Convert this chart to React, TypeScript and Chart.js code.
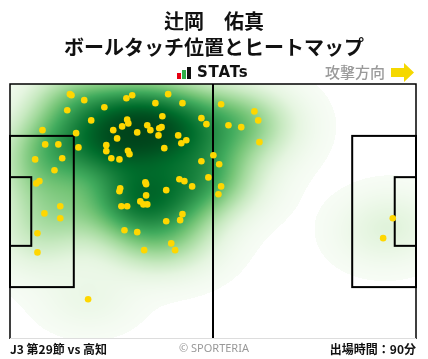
import React, { useEffect, useRef } from "react";
import { Chart, registerables } from "chart.js";

Chart.register(...registerables);

// ---------- texts ----------
const PLAYER = "辻岡　佑真";
const TITLE = "ボールタッチ位置とヒートマップ";
const LOGO = "STATs";
const DIRECTION = "攻撃方向";
const MATCH = "J3 第29節 vs 高知";
const COPYRIGHT = "© SPORTERIA";
const MINUTES = "出場時間：90分";

// ---------- pitch (metres) ----------
const FIELD_LENGTH = 105;
const FIELD_WIDTH = 68;
const PEN_DEPTH = 16.5;
const PEN_WIDTH = 40.32;
const GOAL_AREA_DEPTH = 5.5;
const GOAL_AREA_WIDTH = 18.32;

// ---------- ball touches (x: along pitch, y: from top touchline, metres) ----------
const touchX = [
  15.5, 15.9, 19.2, 14.8, 24.4, 30.1, 31.6, 40.9, 37.6, 44.6,
  21.0, 30.3, 30.6, 29.0, 26.7, 32.9, 35.5, 36.3, 38.6, 39.2,
  39.4, 38.4, 27.7, 8.4, 17.1, 17.7, 9.1, 12.5, 24.9, 24.9,
  30.5, 30.9, 26.2, 28.3, 39.9, 43.5, 44.3, 45.6, 49.5, 50.8,
  49.5, 52.6, 51.3, 53.9, 6.5, 13.5, 11.5, 7.6, 6.8, 13.0,
  43.8, 45.1, 47.1, 35.0, 35.2, 40.4, 28.5, 28.3, 35.2, 33.7,
  34.5, 35.5, 28.8, 30.3, 54.6, 63.2, 64.2, 56.5, 59.8, 64.5,
  54.1, 54.6, 99.0, 96.5, 44.6, 44.0, 40.4, 29.6, 32.9, 41.7,
  42.7, 34.7, 20.2, 8.9, 13.0, 7.1, 7.1,
];
const touchY = [
  2.7, 3.0, 4.3, 7.0, 6.2, 3.8, 3.0, 2.7, 5.1, 5.1,
  9.7, 9.5, 10.5, 11.3, 12.3, 12.9, 11.0, 12.3, 11.8, 11.5,
  8.6, 13.7, 14.5, 12.3, 13.1, 16.9, 16.1, 16.1, 16.3, 17.9,
  17.8, 18.7, 19.8, 20.1, 17.1, 13.7, 15.8, 15.0, 9.1, 10.7,
  20.6, 19.0, 24.9, 29.4, 20.1, 19.8, 23.0, 25.9, 26.5, 32.6,
  25.4, 25.9, 27.3, 26.2, 26.7, 28.3, 27.8, 28.6, 29.7, 31.3,
  32.1, 32.1, 32.6, 32.6, 5.4, 7.3, 9.7, 11.0, 11.5, 15.5,
  21.4, 27.3, 35.8, 41.1, 34.7, 36.3, 36.6, 39.0, 39.5, 42.5,
  44.3, 44.3, 57.4, 34.5, 35.8, 39.8, 44.9,
];

// matplotlib "Greens"
const GREENS = [
  [247, 252, 245], [229, 245, 224], [199, 233, 192], [161, 217, 155],
  [116, 196, 118], [65, 171, 93], [35, 139, 69], [0, 109, 44], [0, 68, 27],
];
function greens(t: number): number[] {
  const v = Math.max(0, Math.min(1, t)) * (GREENS.length - 1);
  const i = Math.min(GREENS.length - 2, Math.floor(v));
  const f = v - i;
  const a = GREENS[i], b = GREENS[i + 1];
  return [a[0] + (b[0] - a[0]) * f, a[1] + (b[1] - a[1]) * f, a[2] + (b[2] - a[2]) * f];
}

const THRESH = 0.009;
const CURVE = 1.6;

const pitchPlugin = {
  id: "pitch",
  beforeDatasetsDraw(chart: any) {
    const { ctx, chartArea, scales } = chart;
    const xs = scales.x, ys = scales.y;
    const left = Math.round(chartArea.left), top = Math.round(chartArea.top);
    const w = Math.round(chartArea.right) - left;
    const h = Math.round(chartArea.bottom) - top;

    // ---- kernel density estimate (Gaussian, Scott bandwidth, full covariance) ----
    const n = touchX.length;
    let mx = 0, my = 0;
    for (let i = 0; i < n; i++) { mx += touchX[i]; my += touchY[i]; }
    mx /= n; my /= n;
    let sxx = 0, syy = 0, sxy = 0;
    for (let i = 0; i < n; i++) {
      const dx = touchX[i] - mx, dy = touchY[i] - my;
      sxx += dx * dx; syy += dy * dy; sxy += dx * dy;
    }
    sxx /= n - 1; syy /= n - 1; sxy /= n - 1;
    const fac = Math.pow(n, -1 / 6);
    const cxx = sxx * fac * fac, cyy = syy * fac * fac, cxy = sxy * fac * fac;
    const det = cxx * cyy - cxy * cxy;
    const ia = cyy / det, ib = -cxy / det, ic = cxx / det;

    const dens = new Float32Array(w * h);
    let maxD = 0;
    for (let j = 0; j < h; j++) {
      const yv = ys.getValueForPixel(top + j + 0.5);
      for (let i = 0; i < w; i++) {
        const xv = xs.getValueForPixel(left + i + 0.5);
        let s = 0;
        for (let k = 0; k < n; k++) {
          const dx = xv - touchX[k], dy = yv - touchY[k];
          const q = ia * dx * dx + 2 * ib * dx * dy + ic * dy * dy;
          if (q < 40) s += Math.exp(-0.5 * q);
        }
        dens[j * w + i] = s;
        if (s > maxD) maxD = s;
      }
    }
    const img = ctx.createImageData(w, h);
    for (let p = 0; p < w * h; p++) {
      const t = dens[p] / maxD;
      if (t < THRESH) { img.data[p * 4 + 3] = 0; continue; }
      const u = (t - THRESH) / (1 - THRESH);
      const c = greens(1 - Math.pow(1 - u, CURVE));
      img.data[p * 4] = c[0];
      img.data[p * 4 + 1] = c[1];
      img.data[p * 4 + 2] = c[2];
      img.data[p * 4 + 3] = 255;
    }
    ctx.save();
    ctx.putImageData(img, left, top);
    ctx.restore();

    // ---- pitch lines ----
    const px = (v: number) => xs.getPixelForValue(v);
    const py = (v: number) => ys.getPixelForValue(v);
    ctx.save();
    ctx.strokeStyle = "#000";
    ctx.lineWidth = 2;
    const rect = (x0: number, y0: number, x1: number, y1: number) => {
      ctx.strokeRect(px(x0), py(y0), px(x1) - px(x0), py(y1) - py(y0));
    };
    const mid = FIELD_WIDTH / 2;
    rect(0, mid - PEN_WIDTH / 2, PEN_DEPTH, mid + PEN_WIDTH / 2);
    rect(0, mid - GOAL_AREA_WIDTH / 2, GOAL_AREA_DEPTH, mid + GOAL_AREA_WIDTH / 2);
    rect(FIELD_LENGTH - PEN_DEPTH, mid - PEN_WIDTH / 2, FIELD_LENGTH, mid + PEN_WIDTH / 2);
    rect(FIELD_LENGTH - GOAL_AREA_DEPTH, mid - GOAL_AREA_WIDTH / 2, FIELD_LENGTH, mid + GOAL_AREA_WIDTH / 2);
    // halfway line
    ctx.beginPath();
    ctx.moveTo(px(FIELD_LENGTH / 2), py(0));
    ctx.lineTo(px(FIELD_LENGTH / 2), py(FIELD_WIDTH));
    ctx.stroke();
    // outer border
    ctx.lineWidth = 1.5;
    ctx.beginPath();
    ctx.moveTo(px(0), py(FIELD_WIDTH));
    ctx.lineTo(px(0), py(0));
    ctx.lineTo(px(FIELD_LENGTH), py(0));
    ctx.lineTo(px(FIELD_LENGTH), py(FIELD_WIDTH));
    ctx.stroke();
    ctx.strokeStyle = "#dddddd";
    ctx.lineWidth = 1;
    ctx.beginPath();
    ctx.moveTo(px(0), py(FIELD_WIDTH) - 0.5);
    ctx.lineTo(px(FIELD_LENGTH), py(FIELD_WIDTH) - 0.5);
    ctx.stroke();
    ctx.restore();
  },
};

const JP = '"Noto Sans CJK JP", "Noto Sans", sans-serif';

export default function App() {
  const ref = useRef<HTMLCanvasElement | null>(null);

  useEffect(() => {
    document.body.style.margin = "0";
    const canvas = ref.current;
    if (!canvas) return;
    const chart = new Chart(canvas, {
      type: "scatter",
      data: {
        datasets: [
          {
            data: touchX.map((x, i) => ({ x, y: touchY[i] })),
            backgroundColor: "#ffd700",
            borderWidth: 0,
            pointRadius: 3.3,
            pointHoverRadius: 3.3,
          },
        ],
      },
      options: {
        animation: false,
        responsive: false,
        devicePixelRatio: 1,
        layout: { padding: { left: 10, right: 12, top: 84, bottom: 20 } },
        plugins: { legend: { display: false }, tooltip: { enabled: false } },
        scales: {
          x: { type: "linear", min: 0, max: FIELD_LENGTH, display: false },
          y: { type: "linear", min: 0, max: FIELD_WIDTH, reverse: true, display: false },
        },
      },
      plugins: [pitchPlugin],
    });
    return () => chart.destroy();
  }, []);

  return (
    <div style={{ position: "relative", width: 428, height: 359, background: "#fff", overflow: "hidden", fontFamily: JP }}>
      <canvas ref={ref} width={428} height={359} style={{ position: "absolute", left: 0, top: 0, width: 428, height: 359 }} />
      <div style={{ position: "absolute", left: 0, top: 8, width: 428, textAlign: "center", fontSize: 20, fontWeight: 700, lineHeight: "26px", color: "#111" }}>
        <div>{PLAYER}</div>
        <div>{TITLE}</div>
      </div>
      <div style={{ position: "absolute", left: 177, top: 63, height: 18, display: "flex", alignItems: "flex-end" }}>
        <svg width="15" height="12" style={{ marginRight: 5, marginBottom: 2 }}>
          <rect x="0" y="6" width="4" height="6" fill="#e60012" />
          <rect x="5" y="3" width="4" height="9" fill="#2fae49" />
          <rect x="10" y="0" width="4" height="12" fill="#111" />
        </svg>
        <span style={{ fontFamily: '"DejaVu Sans", sans-serif', fontWeight: 700, fontSize: 15, lineHeight: "18px", color: "#111", letterSpacing: 0.8 }}>{LOGO}</span>
      </div>
      <div style={{ position: "absolute", left: 325, top: 62, fontSize: 15, lineHeight: "20px", color: "#9a9a9a", fontWeight: 500 }}>{DIRECTION}</div>
      <svg width="24" height="19" style={{ position: "absolute", left: 391, top: 63 }}>
        <polygon points="0,5 13,5 13,0 23,9.5 13,19 13,14 0,14" fill="#f5d800" />
      </svg>
      <div style={{ position: "absolute", left: 10, top: 340, fontSize: 12, fontWeight: 700, lineHeight: "18px", color: "#111" }}>{MATCH}</div>
      <div style={{ position: "absolute", left: 0, width: 428, top: 340, textAlign: "center", fontSize: 11, lineHeight: "16px", color: "#999", fontFamily: '"Noto Sans", sans-serif' }}>{COPYRIGHT}</div>
      <div style={{ position: "absolute", right: 12, top: 340, fontSize: 12, fontWeight: 700, lineHeight: "18px", color: "#111" }}>{MINUTES}</div>
    </div>
  );
}
